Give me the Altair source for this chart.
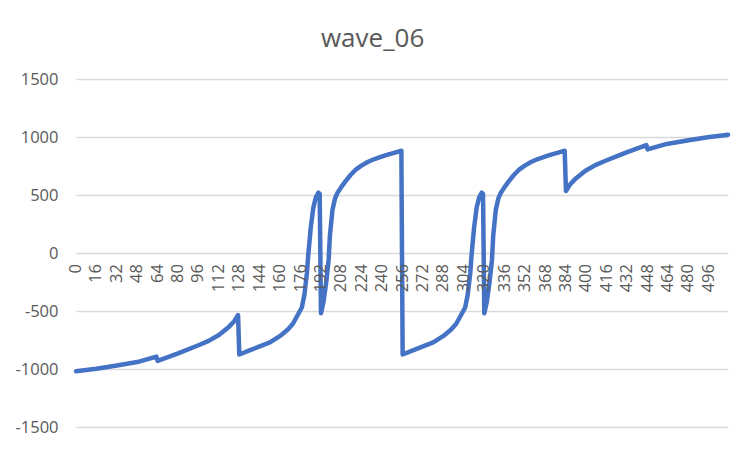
import altair as alt
import pandas as pd

# sample index and value (sparse samples along the wave)
sample_idx = [
    0, 16, 32, 48, 63, 64, 80, 96, 104, 112, 120, 124, 127,
    128, 136, 144, 152, 160, 166, 170, 174, 177, 179, 181, 182, 184, 186, 188, 190, 191,
    192, 194, 196, 198, 199, 201, 203, 205, 208, 211, 215, 219, 224, 229, 234, 240, 245, 250, 255,
    256, 264, 272, 280, 288, 294, 298, 302, 305, 307, 309, 310, 312, 314, 316, 318, 319,
    320, 322, 324, 326, 327, 329, 331, 333, 336, 339, 343, 347, 352, 357, 362, 368, 373, 378, 383,
    384, 387, 391, 399, 407, 415, 431, 447, 448, 463, 479, 495, 511,
]
sample_val = [
    -1020, -997, -970, -940, -893, -930, -865, -795, -758, -707, -635, -588, -535,
    -875, -840, -805, -770, -715, -660, -610, -530, -470, -360, -170, -20, 220, 390, 480, 520, 510,
    -520, -420, -260, -60, 150, 370, 470, 520, 570, 615, 670, 716, 755, 787, 810, 832, 850, 866, 882,
    -875, -840, -805, -770, -715, -660, -610, -530, -470, -360, -170, -20, 220, 390, 480, 520, 510,
    -520, -420, -260, -60, 150, 370, 470, 520, 570, 615, 670, 716, 755, 787, 810, 832, 850, 866, 882,
    535, 588, 635, 707, 758, 795, 865, 930, 893, 940, 970, 997, 1020,
]
x_labels = list(range(0, 512, 16))
y_ticks = [-1500, -1000, -500, 0, 500, 1000, 1500]

FONT = "Open Sans"
GRAY = "#595959"

df = pd.DataFrame({"n": sample_idx, "v": sample_val})
lab = pd.DataFrame({"n": x_labels, "v": [0] * len(x_labels), "t": [str(k) for k in x_labels]})

xs = alt.Scale(domain=[0, 511], nice=False, zero=False)
ys = alt.Scale(domain=[-1500, 1500], nice=False)

y_axis = alt.Axis(
    values=y_ticks,
    labelExpr="datum.value + ''",
    title=None,
    domain=False,
    ticks=False,
    grid=True,
    gridColor="#D9D9D9",
    gridWidth=1.3,
    labelColor=GRAY,
    labelFont=FONT,
    labelFontSize=16.5,
    labelPadding=18,
)

line = alt.Chart(df).mark_line(
    color="#4472C4", strokeWidth=4.5, strokeJoin="round", strokeCap="round"
).encode(
    x=alt.X("n:Q", scale=xs, axis=None),
    y=alt.Y("v:Q", scale=ys, axis=y_axis),
)

labels = alt.Chart(lab).mark_text(
    angle=270, align="right", baseline="middle", dx=-11,
    font=FONT, fontSize=16.5, color=GRAY,
).encode(
    x=alt.X("n:Q", scale=xs, axis=None),
    y=alt.Y("v:Q", scale=ys, axis=y_axis),
    text="t:N",
)

chart = alt.layer(line, labels).properties(
    width=652,
    height=348,
    autosize=alt.AutoSizeParams(type="none"),
    padding={"left": 68, "top": 71, "right": 8, "bottom": 9},
    title=alt.TitleParams(
        "wave_06", font=FONT, fontSize=26, fontWeight="normal", color=GRAY,
        anchor="middle", frame="bounds", offset=19,
    ),
    background="white",
).configure_view(strokeWidth=0)

chart.save("out.html", embed_options={"renderer": "svg", "actions": False})
